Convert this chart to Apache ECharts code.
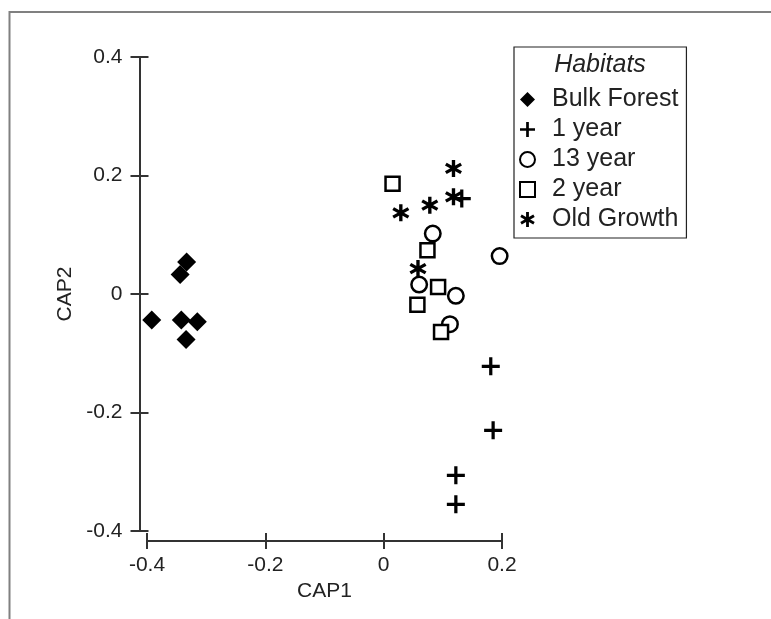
<!DOCTYPE html>
<html>
<head>
<meta charset="utf-8">
<script src="https://cdn.jsdelivr.net/npm/echarts@6.0.0/dist/echarts.min.js"></script>
<style>
html,body{margin:0;padding:0;background:#fff;}
#chart{width:771px;height:619px;}
</style>
</head>
<body>
<div id="chart"></div>
<script>
// ---- data (CAP1, CAP2) ----
const legendTitle = 'Habitats';
const seriesNames = ['Bulk Forest', '1 year', '13 year', '2 year', 'Old Growth'];
const bulkForest = [[-0.333, 0.054], [-0.344, 0.033], [-0.392, -0.044], [-0.342, -0.044], [-0.315, -0.047], [-0.334, -0.077]];
const oneYear = [[0.132, 0.161], [0.181, -0.122], [0.185, -0.230], [0.122, -0.306], [0.122, -0.355]];
const thirteenYear = [[0.083, 0.102], [0.196, 0.064], [0.060, 0.016], [0.122, -0.003], [0.112, -0.051]];
const twoYear = [[0.015, 0.186], [0.074, 0.074], [0.092, 0.012], [0.057, -0.018], [0.097, -0.064]];
const oldGrowth = [[0.118, 0.212], [0.118, 0.164], [0.078, 0.150], [0.029, 0.137], [0.058, 0.043]];
const xTicks = [-0.4, -0.2, 0, 0.2];
const yTicks = [-0.4, -0.2, 0, 0.2, 0.4];

const PLUS = 'path://M-9 -50 L9 -50 L9 -9 L50 -9 L50 9 L9 9 L9 50 L-9 50 L-9 9 L-50 9 L-50 -9 L-9 -9 Z';
const STAR = 'path://M-9.5 -50 L9.5 -50 L9.5 50 L-9.5 50 Z M38.5 -33.2 L48 -16.8 L-38.5 33.2 L-48 16.8 Z M-48 -16.8 L-38.5 -33.2 L48 16.8 L38.5 33.2 Z';

const FONT = '"Liberation Sans", Arial, sans-serif';
const TXT = '#222';
const AX = '#333';

const chart = echarts.init(document.getElementById('chart'), null, {renderer: 'canvas'});

function fmt(v) { return v === 0 ? '0' : String(Math.round(v * 10) / 10); }

const option = {
  backgroundColor: '#fff',
  animation: false,
  textStyle: {fontFamily: FONT},
  grid: {left: 147, top: 57, width: 355, height: 474, outerBoundsMode: 'none', containLabel: false},
  xAxis: [{
    type: 'value', position: 'bottom', offset: 10,
    min: xTicks[0], max: xTicks[xTicks.length - 1], interval: 0.2,
    name: 'CAP1', nameLocation: 'middle', nameGap: 40,
    nameTextStyle: {fontSize: 21, color: TXT, fontFamily: FONT},
    axisLine: {show: true, onZero: false, lineStyle: {color: AX, width: 2}},
    axisTick: {show: true, inside: false, length: 8, lineStyle: {color: AX, width: 2}},
    axisLabel: {fontSize: 21, color: TXT, fontFamily: FONT, margin: 14, formatter: fmt},
    splitLine: {show: false}
  }, {
    type: 'value', position: 'bottom', offset: 10,
    min: xTicks[0], max: xTicks[xTicks.length - 1], interval: 0.2,
    axisLine: {show: false, onZero: false},
    axisTick: {show: true, inside: true, length: 8, lineStyle: {color: AX, width: 2}},
    axisLabel: {show: false},
    splitLine: {show: false}
  }],
  yAxis: [{
    type: 'value', position: 'left', offset: 7.5,
    min: yTicks[0], max: yTicks[yTicks.length - 1], interval: 0.2,
    name: 'CAP2', nameLocation: 'middle', nameGap: 64, nameRotate: 90,
    nameTextStyle: {fontSize: 21, color: TXT, fontFamily: FONT},
    axisLine: {show: true, onZero: false, lineStyle: {color: AX, width: 2}},
    axisTick: {show: true, inside: false, length: 9, lineStyle: {color: AX, width: 2}},
    axisLabel: {fontSize: 21, color: TXT, fontFamily: FONT, margin: 17, formatter: fmt},
    splitLine: {show: false}
  }, {
    type: 'value', position: 'left', offset: 7.5,
    min: yTicks[0], max: yTicks[yTicks.length - 1], interval: 0.2,
    axisLine: {show: false, onZero: false},
    axisTick: {show: true, inside: true, length: 9, lineStyle: {color: AX, width: 2}},
    axisLabel: {show: false},
    splitLine: {show: false}
  }],
  legend: {
    orient: 'vertical', left: 514, top: 47,
    padding: [40, 8, 6, 5],
    itemWidth: 15, itemHeight: 15, itemGap: 5,
    borderColor: '#222', borderWidth: 1.2,
    selectedMode: false,
    textStyle: {fontSize: 25, color: TXT, fontFamily: FONT, lineHeight: 25, padding: [0, 0, 0, 12]},
    data: seriesNames
  },
  graphic: [{
    type: 'rect', silent: true, z: -1,
    shape: {x: 9.5, y: 12, width: 900, height: 800},
    style: {fill: 'none', stroke: '#808080', lineWidth: 2}
  }, {
    type: 'text', silent: true,
    x: 600, y: 65,
    style: {text: legendTitle, fontSize: 25, fontStyle: 'italic', fontFamily: FONT, fill: TXT, textAlign: 'center', textVerticalAlign: 'middle'}
  }],
  series: [{
    name: seriesNames[0], type: 'scatter', symbol: 'diamond', symbolSize: 19,
    itemStyle: {color: '#000', opacity: 1}, data: bulkForest
  }, {
    name: seriesNames[1], type: 'scatter', symbol: PLUS, symbolSize: 18,
    itemStyle: {color: '#000', opacity: 1}, data: oneYear
  }, {
    name: seriesNames[2], type: 'scatter', symbol: 'circle', symbolSize: 15.5,
    itemStyle: {color: '#fff', borderColor: '#000', borderWidth: 2.5, opacity: 1}, data: thirteenYear
  }, {
    name: seriesNames[3], type: 'scatter', symbol: 'rect', symbolSize: 14,
    itemStyle: {color: '#fff', borderColor: '#000', borderWidth: 2.5, opacity: 1}, data: twoYear
  }, {
    name: seriesNames[4], type: 'scatter', symbol: STAR, symbolSize: 17,
    itemStyle: {color: '#000', opacity: 1}, data: oldGrowth
  }]
};
chart.setOption(option);
</script>
</body>
</html>
